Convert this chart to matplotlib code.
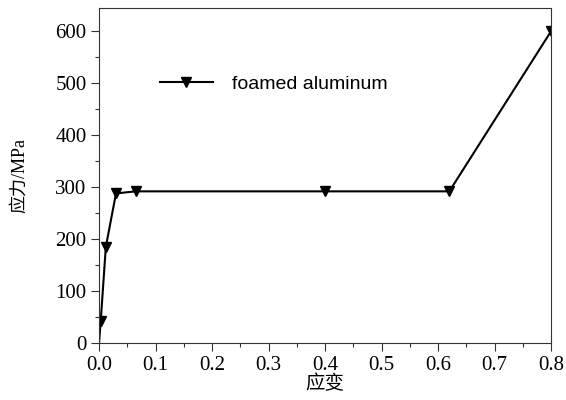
import matplotlib.pyplot as plt
from matplotlib.ticker import MultipleLocator

# stress-strain points for the foamed aluminium sample
strain = [0.0, 0.003, 0.012, 0.030, 0.065, 0.40, 0.62, 0.80]
stress = [0, 43, 185, 288, 292, 292, 292, 600]

serif = ['Liberation Serif', 'Noto Sans CJK SC']

fig = plt.figure(figsize=(5.66, 4.0), dpi=100)
ax = fig.add_axes([0.175, 0.1425, 0.7985, 0.8375])

ax.plot(strain, stress, color='black', lw=1.5, marker='v', ms=7,
        markevery=list(range(1, len(strain))), label='foamed aluminum')

ax.set_xlim(0, 0.8)
ax.set_ylim(0, 645)
ax.xaxis.set_major_locator(MultipleLocator(0.1))
ax.xaxis.set_minor_locator(MultipleLocator(0.05))
ax.yaxis.set_major_locator(MultipleLocator(100))
ax.yaxis.set_minor_locator(MultipleLocator(50))
ax.xaxis.set_major_formatter(lambda v, p: f'{v:.1f}')

ax.tick_params(which='both', direction='out', top=False, right=False,
               width=0.8, color='#333333')
ax.tick_params(which='major', length=6, labelsize=15, pad=3)
ax.tick_params(which='minor', length=3)
for lab in ax.get_xticklabels() + ax.get_yticklabels():
    lab.set_family(serif)
for sp in ax.spines.values():
    sp.set_linewidth(0.8)
    sp.set_color('#333333')

ax.set_xlabel('应变', family=serif, fontsize=14)
ax.xaxis.set_label_coords(0.5, -0.095)
ax.set_ylabel('应力/MPa', family=serif, fontsize=13)
ax.yaxis.set_label_coords(-0.157, 0.5)

ax.legend(loc='center left', bbox_to_anchor=(0.135, 0.773), frameon=False,
          borderpad=0, borderaxespad=0, handlelength=2.7, handletextpad=1.0,
          prop={'family': 'Liberation Sans', 'size': 14})

fig.savefig('out.png', dpi=100)
